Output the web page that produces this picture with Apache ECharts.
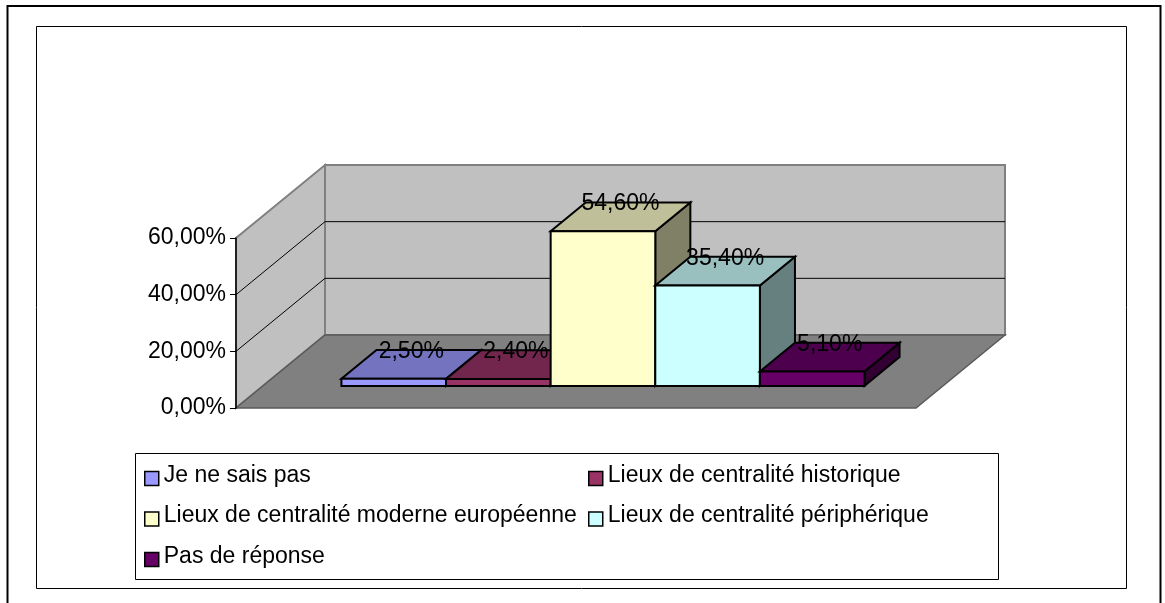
<!DOCTYPE html>
<html>
<head>
<meta charset="utf-8">
<style>
html, body { margin: 0; padding: 0; background: #fff; }
#main { width: 1165px; height: 603px; }
</style>
<script src="https://cdn.jsdelivr.net/npm/echarts@6/dist/echarts.min.js"></script>
</head>
<body>
<div id="main"></div>
<script>
var categories = ['Je ne sais pas', 'Lieux de centralité historique', 'Lieux de centralité moderne européenne', 'Lieux de centralité périphérique', 'Pas de réponse'];
var values = [2.5, 2.4, 54.6, 35.4, 5.1];
var frontColors = ['#9999ff', '#993366', '#ffffcc', '#ccffff', '#660066'];
var topColors = ['#7373bf', '#73264d', '#bfbf99', '#99bfbf', '#4d004d'];
var sideColors = ['#4d4d80', '#4d1a33', '#808066', '#668080', '#330033'];
var yTicks = [0, 20, 40, 60];

var FONT = '"Liberation Sans", Arial, sans-serif';
// projection: how far the back of the box is shifted
var depthX = 89, depthY = 73;
var zFront = 0.303, zBack = 0.697;
var xMin = -1.25, xMax = 5.25;

function project(api, x, v, z) {
    var c = api.coord([x, v]);
    return [c[0] + z * depthX, c[1] - z * depthY];
}

function poly(points, fill, stroke, width) {
    return {
        type: 'polygon',
        shape: { points: points },
        style: { fill: fill, stroke: stroke, lineWidth: width, lineJoin: 'miter' }
    };
}

// walls, floor and gridlines
function renderBox(params, api) {
    var yMax = yTicks[yTicks.length - 1];
    var kids = [];
    kids.push(poly([project(api, xMin, 0, 0), project(api, xMin, 0, 1), project(api, xMin, yMax, 1), project(api, xMin, yMax, 0)], '#c0c0c0', '#808080', 2));
    kids.push(poly([project(api, xMin, 0, 1), project(api, xMax, 0, 1), project(api, xMax, yMax, 1), project(api, xMin, yMax, 1)], '#c0c0c0', '#808080', 2));
    kids.push(poly([project(api, xMin, 0, 0), project(api, xMax, 0, 0), project(api, xMax, 0, 1), project(api, xMin, 0, 1)], '#808080', '#5a5a5a', 1.5));
    yTicks.slice(1, -1).forEach(function (t) {
        kids.push({
            type: 'polyline',
            shape: { points: [project(api, xMin, t, 0), project(api, xMin, t, 1), project(api, xMax, t, 1)] },
            style: { fill: null, stroke: '#000', lineWidth: 1 }
        });
    });
    return { type: 'group', children: kids };
}

function renderBar(params, api) {
    var i = api.value(0), v = api.value(1);
    var l = i - 0.5, r = i + 0.5;
    var s = params.seriesIndex - 1;
    var a = project(api, l, v, zFront), b = project(api, r, v, zFront);
    var c = project(api, r, v, zBack), d = project(api, l, v, zBack);
    var e = project(api, r, 0, zFront), f = project(api, r, 0, zBack), g = project(api, l, 0, zFront);
    var lw = 2;
    return {
        type: 'group',
        children: [
            poly([b, c, f, e], sideColors[s], '#000', lw),
            poly([a, b, c, d], topColors[s], '#000', lw),
            poly([a, b, e, g], frontColors[s], '#000', lw),
            {
                type: 'text',
                z2: 10,
                style: {
                    x: (a[0] + c[0]) / 2,
                    y: d[1] + 1.5,
                    text: v.toFixed(2).replace('.', ',') + '%',
                    fill: '#000',
                    font: '23px ' + FONT,
                    align: 'center',
                    verticalAlign: 'middle'
                }
            }
        ]
    };
}

var series = [{
    type: 'custom',
    name: 'box',
    data: [[0, 0]],
    silent: true,
    renderItem: renderBox
}];
categories.forEach(function (name, i) {
    series.push({
        type: 'custom',
        name: name,
        data: [[i, values[i]]],
        encode: { x: 0, y: 1 },
        itemStyle: { color: frontColors[i] },
        renderItem: renderBar
    });
});

function legendColumn(names, left) {
    return {
        orient: 'vertical',
        left: left,
        top: 459,
        itemWidth: 14,
        itemHeight: 20,
        itemGap: 17.5,
        // swatch sits a little below the text, hence the empty space on top of the path
        icon: 'path://M0 0ZM0 6H14V20H0Z',
        selectedMode: false,
        data: names,
        itemStyle: { borderColor: '#000', borderWidth: 1.5 },
        textStyle: { color: '#000', fontFamily: FONT, fontSize: 23 }
    };
}

var option = {
    animation: false,
    backgroundColor: '#fff',
    grid: { left: 236, top: 238, width: 680, height: 170 },
    xAxis: { type: 'value', min: xMin, max: xMax, show: false },
    yAxis: {
        type: 'value',
        min: 0,
        max: 60,
        interval: 20,
        z: 5,
        splitLine: { show: false },
        axisLine: { show: true, onZero: false, lineStyle: { color: '#000', width: 1.5 } },
        axisTick: { show: true, length: 6, lineStyle: { color: '#000' } },
        axisLabel: {
            color: '#000',
            fontFamily: FONT,
            fontSize: 23,
            margin: 10,
            formatter: function (v) { return v.toFixed(2).replace('.', ',') + '%'; }
        }
    },
    legend: [
        legendColumn([categories[0], categories[2], categories[4]], 139),
        legendColumn([categories[1], categories[3]], 583)
    ],
    graphic: [
        { type: 'rect', z: -1, shape: { x: 7.5, y: 6, width: 1153, height: 620 }, style: { fill: '#fff', stroke: '#000', lineWidth: 2 } },
        { type: 'rect', z: -1, shape: { x: 36.5, y: 26.5, width: 1090, height: 562 }, style: { fill: '#fff', stroke: '#000', lineWidth: 1 } },
        { type: 'rect', z: -1, shape: { x: 135.5, y: 453.5, width: 863, height: 126 }, style: { fill: '#fff', stroke: '#000', lineWidth: 1 } }
    ],
    series: series
};

var myChart = echarts.init(document.getElementById('main'));
myChart.setOption(option);
</script>
</body>
</html>
